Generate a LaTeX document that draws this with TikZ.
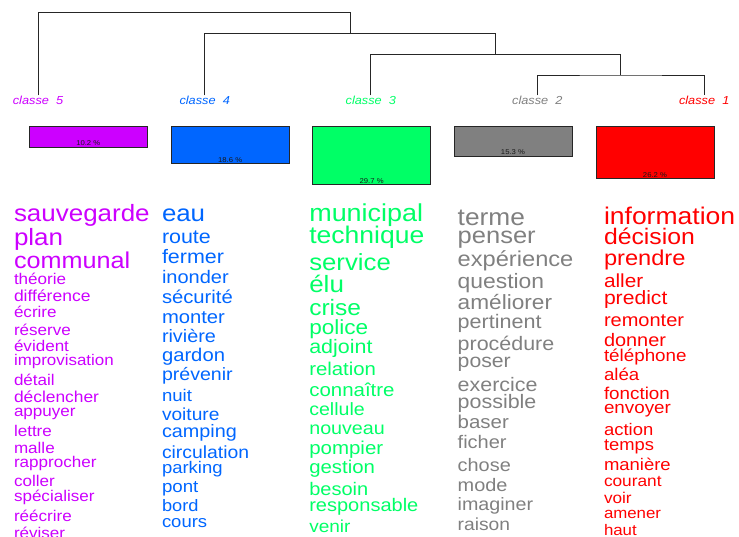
\documentclass[tikz,border=0pt]{standalone}
\usepackage{fontspec}
\setmainfont{Liberation Sans}[FakeStretch=1.1]
\newcommand\wfs[1]{\fontsize{#1}{#1}\selectfont}
\definecolor{cfive}{HTML}{CC00FF}
\definecolor{cfour}{HTML}{0066FF}
\definecolor{cthree}{HTML}{00FF66}
\definecolor{ctwo}{HTML}{808080}
\definecolor{cone}{HTML}{FF0000}
\begin{document}
\begin{tikzpicture}[x=1pt,y=-1pt,
  word/.style={anchor=base west, inner sep=0pt, outer sep=0pt},
  clab/.style={anchor=base, inner sep=0.5pt, font=\wfs{11.6}\itshape},
  dendro/.style={draw=black!85, line width=0.9pt},
  box/.style={draw=black!85, line width=0.9pt, anchor=north west, inner sep=0pt, minimum width=118pt},
  pct/.style={anchor=base, inner sep=0pt, font=\wfs{7}, text=black!90}]
\useasboundingbox (0,0) rectangle (739,537);

% class labels
\node[clab, text=cfive]  (l5) at (38,104.5)    {classe\ \ 5};
\node[clab, text=cfour]  (l4) at (204.7,104.5) {classe\ \ 4};
\node[clab, text=cthree] (l3) at (370.8,104.5) {classe\ \ 3};
\node[clab, text=ctwo]   (l2) at (537.3,104.5) {classe\ \ 2};
\node[clab, text=cone]   (l1) at (704.2,104.5) {classe\ \ 1};

% dendrogram joins
\coordinate (j12)   at (620.8,75);
\coordinate (j123)  at (495.8,54.3);
\coordinate (j1234) at (350.3,33.3);
\coordinate (jtop)  at (194,12.3);
\draw[dendro] (l2.north) |- (j12) -| (l1.north);
\draw[dendro] (l3.north) |- (j123) -| (j12);
\draw[dendro] (l4.north) |- (j1234) -| (j123);
\draw[dendro] (l5.north) |- (jtop) -| (j1234);

% boxes
\node[box, fill=cfive,  minimum height=20.7pt] (b5) at (28.8,126)  {};
\node[box, fill=cfour,  minimum height=37.3pt] (b4) at (170.7,126) {};
\node[box, fill=cthree, minimum height=58.3pt] (b3) at (312.2,126) {};
\node[box, fill=ctwo,   minimum height=29.7pt] (b2) at (453.5,126) {};
\node[box, fill=cone,   minimum height=52.3pt] (b1) at (595.5,126) {};
\node[pct] (p5) at ([yshift=1.8pt]b5.south) {10.2 \%};
\node[pct] (p4) at ([yshift=1.8pt]b4.south) {18.6 \%};
\node[pct] (p3) at ([yshift=1.8pt]b3.south) {29.7 \%};
\node[pct] (p2) at ([yshift=1.8pt]b2.south) {15.3 \%};
\node[pct] (p1) at ([yshift=1.8pt]b1.south) {26.2 \%};

% column classe 5
\foreach \t/\s/\b [count=\i] in {sauvegarde/23.6/221.7, plan/23.6/246, communal/22.9/268.5,
  théorie/15.5/284.3, différence/15.9/301.7, écrire/15.5/318, réserve/15.5/335,
  évident/15.5/351.7, improvisation/15.4/365.7, détail/15.5/385, déclencher/15.8/402.3,
  appuyer/15.5/416.7, lettre/15.5/436.7, malle/15.5/453.3, rapprocher/15.5/467.7,
  coller/15.5/486.7, spécialiser/15.5/501, réécrire/15.5/521, réviser/15.5/538}
  \node[word, font=\wfs{\s}, text=cfive] (wv\i) at (14,\b) {\t};

% column classe 4
\foreach \t/\s/\b [count=\i] in {eau/23.5/221.7, route/19.5/243.3, fermer/19.5/263.3,
  inonder/18.2/283.3, sécurité/18.4/303.3, monter/18.4/323.3, rivière/18/342.7,
  gardon/18.4/361.7, prévenir/17.8/380, nuit/16.9/401.7, voiture/17.4/420,
  camping/18/437.7, circulation/17.6/458.3, parking/16.8/473.3, pont/17/492.7,
  bord/16.6/511, cours/16.8/527.7}
  \node[word, font=\wfs{\s}, text=cfour] (wiv\i) at (162,\b) {\t};

% column classe 3
\foreach \t/\s/\b [count=\i] in {municipal/24.5/221.5, technique/24.1/244, service/23.4/270.5,
  élu/23.6/293, crise/22.3/315.7, police/20.5/334.3, adjoint/19.5/353.3,
  relation/18.5/375.7, connaître/18.6/396, cellule/17.8/415.7, nouveau/17.9/434.3,
  pompier/18.6/454.3, gestion/18.5/473.3, besoin/18.2/495, responsable/18.2/511.7,
  venir/17.3/532.3}
  \node[word, font=\wfs{\s}, text=cthree] (wiii\i) at (309.3,\b) {\t};

% column classe 2
\foreach \t/\s/\b [count=\i] in {terme/23.9/225.5, penser/23.2/244, expérience/21.5/266.7,
  question/20.8/288.5, améliorer/20.6/310, pertinent/19.6/328.3, procédure/19.5/350,
  poser/19.3/367.7, exercice/19.5/391, possible/19.5/408.3, baser/18.6/428.3,
  ficher/18.2/448.3, chose/18.1/471.7, mode/18.1/491.7, imaginer/17.9/510,
  raison/17.5/530}
  \node[word, font=\wfs{\s}, text=ctwo] (wii\i) at (457.7,\b) {\t};

% column classe 1
\foreach \t/\s/\b [count=\i] in {information/24.1/225, décision/22.5/245, prendre/21.5/265.7,
  aller/18.9/287.7, predict/19.2/305, remonter/18.2/326.7, donner/18.1/346.7,
  téléphone/17.1/361, aléa/17/380, fonction/17.1/399.3, envoyer/17.1/413.3,
  action/16.8/435, temps/16.7/450, manière/16.8/470, courant/15.7/486.7,
  voir/15.6/503.3, amener/15.3/518.3, haut/15.3/535}
  \node[word, font=\wfs{\s}, text=cone] (wi\i) at (604,\b) {\t};
\end{tikzpicture}
\end{document}
